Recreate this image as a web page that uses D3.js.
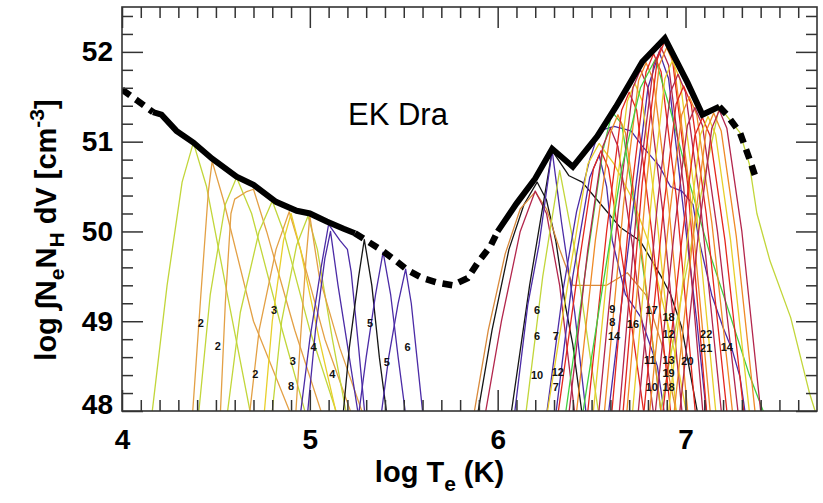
<!DOCTYPE html>
<html><head><meta charset="utf-8">
<script src="https://cdn.jsdelivr.net/npm/d3@7"></script>
<style>
html,body{margin:0;padding:0;background:#fff;}
svg{display:block;font-family:"Liberation Sans",Arial,Helvetica,sans-serif;}
</style></head><body>
<svg id="chart" width="823" height="503"></svg>
<script>
// Differential emission measure of EK Dra with the emission-measure loci of the lines used.

// DEM curve (log T, log EM)
const demLogT  = [4.00, 4.08, 4.165, 4.21, 4.29, 4.38, 4.48, 4.61, 4.70, 4.82, 4.93, 5.00, 5.09, 5.18, 5.24,
                  5.30, 5.39, 5.46, 5.52, 5.60, 5.68, 5.76, 5.84, 5.90, 5.96, 6.00,
                  6.10, 6.20, 6.29, 6.40, 6.53, 6.63, 6.77, 6.89, 7.01, 7.09, 7.18,
                  7.22, 7.29, 7.34, 7.38];
const demLogEM = [51.58, 51.46, 51.33, 51.30, 51.12, 50.99, 50.81, 50.61, 50.52, 50.33, 50.23, 50.20, 50.11, 50.03, 49.98,
                  49.90, 49.78, 49.67, 49.57, 49.48, 49.43, 49.40, 49.48, 49.67, 49.83, 50.00,
                  50.31, 50.59, 50.92, 50.72, 51.06, 51.39, 51.89, 52.15, 51.66, 51.30, 51.39,
                  51.30, 51.10, 50.81, 50.56];
// temperature ranges where the DEM is constrained by lines (solid); elsewhere it is extrapolated (dashed)
const demConstrained = [[4.165, 5.24], [6.00, 7.18]];
const demExtrapolated = [[4.00, 4.165], [5.24, 6.00], [7.18, 7.38]];

// Emission-measure loci, one point list per line (log T, log EM)
const lociPoints = [
  // transition region
  [[4.15,47.8],[4.24,49.4],[4.32,50.55],[4.38,50.99],[4.45,50.5],[4.57,49.2],[4.70,47.8]],
  [[4.37,47.8],[4.42,49.3],[4.46,50.45],[4.48,50.78],[4.54,50.35],[4.70,49.0],[4.93,47.8]],
  [[4.40,47.8],[4.47,49.3],[4.55,50.3],[4.61,50.6],[4.69,50.2],[4.84,49.0],[5.00,47.8]],
  [[4.52,47.8],[4.55,49.2],[4.58,50.2],[4.60,50.36],[4.66,50.44],[4.70,50.47],[4.77,50.0],[4.92,48.9],[5.09,47.8]],
  [[4.55,47.8],[4.63,49.1],[4.73,50.0],[4.80,50.34],[4.86,50.0],[5.00,48.9],[5.17,47.8]],
  [[4.67,47.8],[4.73,48.9],[4.82,49.8],[4.89,50.22],[4.95,49.8],[5.08,48.8],[5.25,47.8]],
  [[4.75,47.8],[4.80,49.0],[4.86,49.9],[4.90,50.2],[4.95,49.8],[5.05,48.8],[5.16,47.8]],
  [[4.79,47.8],[4.85,49.0],[4.93,49.85],[4.99,50.17],[5.04,49.8],[5.12,48.8],[5.21,47.8]],
  [[4.92,47.8],[4.95,48.8],[4.98,49.7],[5.00,50.17],[5.05,49.5],[5.16,48.7],[5.31,47.8]],
  [[4.94,47.8],[5.00,48.8],[5.06,49.6],[5.10,50.08],[5.16,49.9],[5.20,49.8],[5.22,49.55],[5.26,48.7],[5.30,47.8]],
  [[4.98,47.8],[5.03,48.9],[5.08,49.7],[5.11,50.0],[5.15,49.4],[5.21,48.6],[5.27,47.8]],
  [[5.17,47.8],[5.21,48.7],[5.26,49.5],[5.29,49.91],[5.33,49.4],[5.37,48.6],[5.42,47.8]],
  [[5.25,47.8],[5.30,48.6],[5.35,49.3],[5.39,49.77],[5.43,49.3],[5.47,48.6],[5.52,47.8]],
  [[5.37,47.8],[5.42,48.6],[5.47,49.2],[5.51,49.58],[5.54,49.2],[5.57,48.6],[5.61,47.8]],
  // corona
  [[5.88,47.8],[5.97,48.9],[6.06,49.8],[6.14,50.3],[6.21,50.55],[6.26,50.35],[6.31,49.89],[6.36,49.18],[6.40,48.74],[6.46,47.8]],
  [[5.86,47.8],[5.95,48.9],[6.04,49.75],[6.12,50.25],[6.20,50.44],[6.26,50.25],[6.33,49.8],[6.40,49.40],[6.49,49.40],[6.58,49.40],[6.69,49.54],[6.79,49.29],[6.88,48.7],[6.97,47.8]],
  [[5.92,47.8],[6.02,49.0],[6.12,50.0],[6.20,50.45],[6.26,50.2],[6.33,49.4],[6.42,47.8]],
  [[6.06,47.8],[6.17,49.4],[6.29,50.9],[6.38,50.62],[6.45,50.55],[6.55,50.3],[6.65,50.05],[6.76,49.89],[6.87,49.5],[6.92,49.3],[6.98,48.93],[7.08,47.8]],
  [[6.08,47.8],[6.16,49.18],[6.22,49.85],[6.29,50.9],[6.34,50.1],[6.41,49.1],[6.48,47.8]],
  [[6.14,47.8],[6.24,49.5],[6.33,50.68],[6.41,49.8],[6.50,48.5],[6.55,47.8]],
  [[6.25,47.8],[6.35,49.37],[6.42,50.22],[6.49,50.8],[6.54,51.12],[6.62,51.17],[6.71,51.12],[6.77,50.95],[6.86,50.73],[6.92,50.5],[6.98,50.45],[7.04,50.3],[7.07,49.92],[7.14,49.29],[7.20,48.93],[7.25,48.67],[7.29,48.38],[7.33,47.8]],
  [[6.30,47.8],[6.40,49.5],[6.49,50.6],[6.54,50.85],[6.58,50.5],[6.61,49.9],[6.68,49.3],[6.76,49.05],[6.85,48.5],[6.90,47.8]],
  [[6.35,47.8],[6.47,49.6],[6.56,50.9],[6.61,51.33],[6.66,51.2],[6.72,50.4],[6.80,49.2],[6.88,47.8]],
  [[6.25,47.8],[6.38,49.5],[6.48,50.75],[6.54,50.98],[6.62,50.75],[6.72,50.35],[6.80,49.9],[6.88,49.2],[6.96,48.5],[7.02,47.8]],
  [[6.85,47.8],[6.98,49.3],[7.10,50.6],[7.18,51.39],[7.29,51.1],[7.34,50.75],[7.38,50.2],[7.45,49.67],[7.56,49.04],[7.66,48.2],[7.72,47.8]],
  [[6.31,47.8],[6.43,49.6],[6.51,50.7],[6.55,50.9],[6.59,50.7],[6.67,49.6],[6.79,47.8]],
  [[6.37,47.8],[6.48,49.8],[6.56,50.95],[6.60,51.15],[6.64,50.95],[6.72,49.8],[6.84,47.8]],
  [[6.41,47.8],[6.52,49.9],[6.60,51.1],[6.64,51.3],[6.68,51.1],[6.76,49.9],[6.88,47.8]],
  [[6.58,47.8],[6.70,49.9],[6.80,51.6],[6.86,52.0],[6.91,51.7],[6.98,50.4],[7.06,49.0],[7.12,47.8]],
  [[6.47,47.8],[6.58,50.0],[6.66,51.35],[6.70,51.55],[6.74,51.35],[6.82,50.0],[6.93,47.8]],
  [[6.50,47.8],[6.61,50.1],[6.69,51.45],[6.73,51.65],[6.77,51.45],[6.85,50.1],[6.96,47.8]],
  [[6.53,47.8],[6.64,50.2],[6.72,51.6],[6.76,51.8],[6.80,51.6],[6.88,50.2],[6.99,47.8]],
  [[6.56,47.8],[6.67,50.3],[6.75,51.68],[6.79,51.88],[6.83,51.68],[6.91,50.3],[7.02,47.8]],
  [[6.60,47.8],[6.71,50.4],[6.79,51.78],[6.83,51.98],[6.87,51.78],[6.95,50.4],[7.06,47.8]],
  [[6.44,47.8],[6.56,49.4],[6.66,50.7],[6.76,51.6],[6.84,51.92],[6.92,51.35],[7.02,50.55],[7.13,49.75],[7.24,49.05],[7.34,48.4],[7.45,47.8]],
  [[6.64,47.8],[6.75,50.5],[6.83,51.85],[6.87,52.05],[6.91,51.85],[6.99,50.5],[7.10,47.8]],
  [[6.66,47.8],[6.77,50.55],[6.85,51.92],[6.89,52.12],[6.93,51.92],[7.01,50.55],[7.12,47.8]],
  [[6.68,47.8],[6.79,50.5],[6.86,51.85],[6.90,52.05],[6.94,51.85],[7.02,50.5],[7.14,47.8]],
  [[6.71,47.8],[6.82,50.4],[6.89,51.7],[6.93,51.9],[6.97,51.7],[7.05,50.4],[7.17,47.8]],
  [[6.74,47.8],[6.85,50.3],[6.92,51.55],[6.96,51.75],[7.00,51.55],[7.08,50.3],[7.20,47.8]],
  [[6.77,47.8],[6.88,50.2],[6.95,51.42],[6.99,51.62],[7.03,51.42],[7.11,50.2],[7.23,47.8]],
  [[6.80,47.8],[6.91,50.1],[6.98,51.3],[7.02,51.5],[7.06,51.3],[7.14,50.1],[7.26,47.8]],
  [[6.83,47.8],[6.94,50.0],[7.01,51.18],[7.05,51.38],[7.09,51.18],[7.17,50.0],[7.29,47.8]],
  [[6.87,47.8],[6.98,49.9],[7.05,51.07],[7.09,51.27],[7.13,51.07],[7.21,49.9],[7.32,47.8]],
  [[6.90,47.8],[7.01,49.9],[7.08,51.08],[7.12,51.28],[7.16,51.08],[7.24,49.9],[7.35,47.8]],
  [[6.93,47.8],[7.04,49.95],[7.11,51.12],[7.15,51.32],[7.19,51.12],[7.27,49.95],[7.38,47.8]],
  [[6.96,47.8],[7.07,50.0],[7.14,51.15],[7.18,51.35],[7.22,51.15],[7.30,50.0],[7.41,47.8]]
];
// colour class of each locus, same order as lociPoints
const lociColorKeys = [
  "yg","or","yg","or","yg","or","ye","yg","or","pu","pu","bk","pu","pu",
  "bk","br","dr","bk","pu","yg","pu","pu","gr","ye","yg",
  "rd","dr","og","pu","rd","ye","dr","og","rd","gr","dr","rd","og","ye","dr","rd","og","dr","rd","ye","og","dr"
];
const palette = {yg:"#c2d63a", or:"#e3a045", ye:"#e8cf2a", pu:"#4b2ba6", bk:"#151515",
                 rd:"#e3261c", dr:"#b3264c", og:"#ef8a26", gr:"#40d040", br:"#d98a3c"};

// ionisation-stage labels (text, log T, log EM)
const lineLabels = [
  ["2",4.42,48.98],["2",4.51,48.72],["2",4.71,48.41],["3",4.81,49.12],["3",4.91,48.56],
  ["4",5.02,48.71],["4",5.12,48.41],["8",4.90,48.28],["5",5.32,48.98],["5",5.41,48.54],["6",5.52,48.71],
  ["6",6.21,49.12],["6",6.21,48.83],["7",6.31,48.83],["10",6.21,48.40],["12",6.32,48.43],["7",6.31,48.27],
  ["9",6.61,49.14],["8",6.61,48.99],["14",6.62,48.84],["16",6.72,48.97],["17",6.82,49.12],
  ["18",6.91,49.05],["12",6.91,48.86],["22",7.11,48.86],["21",7.11,48.70],["14",7.22,48.71],
  ["11",6.81,48.57],["13",6.91,48.57],["20",7.01,48.56],["19",6.91,48.42],["10",6.82,48.27],["18",6.91,48.27]
];

const xMajor = [4, 5, 6, 7];
const yMajor = [48, 49, 50, 51, 52];

const svg = d3.select("#chart");
const x = d3.scaleLinear().domain([4, 7.7]).range([122, 817]);
const y = d3.scaleLinear().domain([48, 52.5]).range([411, 7]);
const [x0, x1] = x.range(), [y0, y1] = [y.range()[1], y.range()[0]];

svg.append("defs").append("clipPath").attr("id", "plot")
  .append("rect").attr("x", x0).attr("y", y0).attr("width", x1 - x0).attr("height", y1 - y0);

const line = d3.line().x(d => x(d[0])).y(d => y(d[1]));

// loci
const lociG = svg.append("g").attr("clip-path", "url(#plot)");
lociG.selectAll("path").data(lociPoints).join("path")
  .attr("d", line)
  .attr("fill", "none")
  .attr("stroke", (d, i) => palette[lociColorKeys[i]])
  .attr("stroke-width", 1.3)
  .attr("stroke-linejoin", "round");

// DEM
const dem = demLogT.map((t, i) => [t, demLogEM[i]]);
const inRange = r => dem.filter(d => d[0] >= r[0] - 1e-9 && d[0] <= r[1] + 1e-9);
const demG = svg.append("g").attr("clip-path", "url(#plot)");
demG.selectAll("path.ext").data(demExtrapolated.map(inRange)).join("path")
  .attr("class", "ext").attr("d", line).attr("fill", "none")
  .attr("stroke", "#000").attr("stroke-width", 6.5).attr("stroke-dasharray", "10,7");
demG.selectAll("path.con").data(demConstrained.map(inRange)).join("path")
  .attr("class", "con").attr("d", line).attr("fill", "none")
  .attr("stroke", "#000").attr("stroke-width", 6).attr("stroke-linejoin", "miter");

// labels
svg.append("g").selectAll("text").data(lineLabels).join("text")
  .attr("x", d => x(d[1])).attr("y", d => y(d[2]))
  .attr("text-anchor", "middle").attr("dy", "0.36em")
  .attr("font-size", 11).attr("font-weight", "bold").attr("fill", "#111")
  .text(d => d[0]);

// axes with inward ticks on all four sides
const xMinor = d3.range(40, 77).map(v => v / 10).filter(v => !xMajor.includes(v));
const yMinor = d3.range(240, 263, 1).map(v => v / 5).filter(v => !yMajor.includes(v));
const axisStyle = g => { g.select(".domain").remove(); g.selectAll("line").attr("stroke", "#333").attr("stroke-width", 1.5); };
function addAxis(gen, tr, vals, size, labels) {
  const g = svg.append("g").attr("transform", tr)
    .call(gen.tickValues(vals).tickSizeInner(-size).tickSizeOuter(0).tickFormat(labels ? d3.format("d") : ""));
  axisStyle(g);
  g.selectAll("text").attr("font-size", labels ? 28 : 0).attr("font-weight", "bold").attr("fill", "#000")
    .attr("font-family", "Liberation Sans, Arial, sans-serif");
  return g;
}
const gxb = addAxis(d3.axisBottom(x), `translate(0,${y1})`, xMajor, 21, true);
gxb.selectAll("text").attr("dy", "0").attr("y", 38);
addAxis(d3.axisBottom(x), `translate(0,${y1})`, xMinor, 11, false);
addAxis(d3.axisTop(x), `translate(0,${y0})`, xMajor, 21, false);
addAxis(d3.axisTop(x), `translate(0,${y0})`, xMinor, 11, false);
const gyl = addAxis(d3.axisLeft(y), `translate(${x0},0)`, yMajor, 21, true);
gyl.selectAll("text").attr("x", -9);
gyl.selectAll("text").filter(d => d === 48).attr("dy", "0.1em");
addAxis(d3.axisLeft(y), `translate(${x0},0)`, yMinor, 11, false);
addAxis(d3.axisRight(y), `translate(${x1},0)`, yMajor, 21, false);
addAxis(d3.axisRight(y), `translate(${x1},0)`, yMinor, 11, false);

svg.append("rect").attr("x", x0).attr("y", y0).attr("width", x1 - x0).attr("height", y1 - y0)
  .attr("fill", "none").attr("stroke", "#333").attr("stroke-width", 1.6);

// titles
svg.append("text").attr("x", 348).attr("y", 125).attr("font-size", 31).attr("fill", "#000").text("EK Dra");

const xt = svg.append("text").attr("x", (x0 + x1) / 2 - 30).attr("y", 482).attr("text-anchor", "middle")
  .attr("font-size", 29).attr("font-weight", "bold").attr("fill", "#000");
xt.append("tspan").text("log T");
xt.append("tspan").attr("font-size", 21).attr("dy", 9).text("e");
xt.append("tspan").attr("dy", -9).text(" (K)");

const yt = svg.append("text").attr("transform", "translate(56,230) rotate(-90)").attr("text-anchor", "middle")
  .attr("font-size", 29).attr("font-weight", "bold").attr("fill", "#000");
yt.append("tspan").text("log \u222BN");
yt.append("tspan").attr("font-size", 21).attr("dy", 8).text("e");
yt.append("tspan").attr("dy", -8).text("N");
yt.append("tspan").attr("font-size", 21).attr("dy", 8).text("H");
yt.append("tspan").attr("dy", -8).text(" dV [cm");
yt.append("tspan").attr("font-size", 21).attr("dy", -12).text("-3");
yt.append("tspan").attr("dy", 12).text("]");
</script></body></html>
